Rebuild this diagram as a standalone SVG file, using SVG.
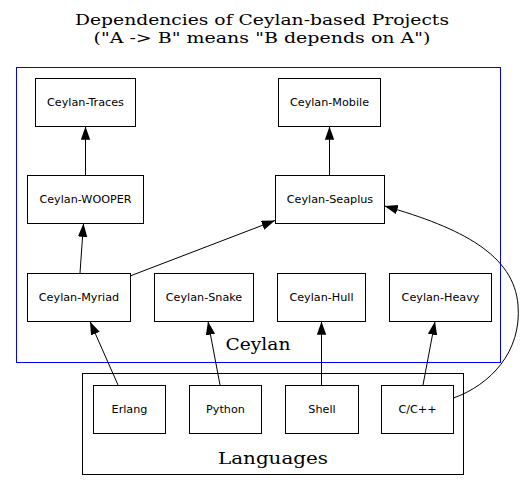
<svg xmlns="http://www.w3.org/2000/svg" width="524" height="491" viewBox="0 0 524 491">
<style>
.bg{fill:#fff}
.node rect{fill:none;stroke:#000;stroke-width:1}
.node text{font-family:"DejaVu Sans",sans-serif;font-size:11.2px;text-anchor:middle;fill:#000}
.title{font-family:"DejaVu Serif",serif;font-size:15px;text-anchor:middle;fill:#000}
.clabel{font-family:"DejaVu Serif",serif;font-size:17px;text-anchor:middle;fill:#000}
.edges path{fill:none;stroke:#000;stroke-width:1;marker-end:url(#ah)}
</style>
<defs>
<marker id="ah" markerWidth="14" markerHeight="10" refX="13.3" refY="4.7" orient="auto" markerUnits="userSpaceOnUse">
<path d="M0,0 L13.3,4.7 L0,9.4 z" fill="#000"/>
</marker>
</defs>
<rect class="bg" x="0" y="0" width="524" height="491"/>
<g id="title">
<text class="title" x="262" y="25" textLength="374" lengthAdjust="spacingAndGlyphs">Dependencies of Ceylan-based Projects</text>
<text class="title" x="262" y="43" textLength="337" lengthAdjust="spacingAndGlyphs">("A -&gt; B" means "B depends on A")</text>
</g>
<g id="cluster_ceylan">
<rect x="16.5" y="67.5" width="484" height="295" fill="none" stroke="#0000ff" stroke-width="1"/>
<text class="clabel" x="258" y="350" textLength="65" lengthAdjust="spacingAndGlyphs">Ceylan</text>
</g>
<g id="cluster_languages">
<rect x="82.5" y="373.5" width="381" height="101" fill="none" stroke="#000" stroke-width="1"/>
<text class="clabel" x="273" y="464" textLength="110" lengthAdjust="spacingAndGlyphs">Languages</text>
</g>
<g id="node_traces" class="node"><rect x="35.5" y="78.5" width="100" height="48"/><text x="85.5" y="106">Ceylan-Traces</text></g>
<g id="node_mobile" class="node"><rect x="278.5" y="78.5" width="102" height="48"/><text x="329.5" y="106">Ceylan-Mobile</text></g>
<g id="node_wooper" class="node"><rect x="27.5" y="175.5" width="116" height="48"/><text x="85.5" y="203">Ceylan-WOOPER</text></g>
<g id="node_seaplus" class="node"><rect x="275.5" y="175.5" width="109" height="48"/><text x="330" y="203">Ceylan-Seaplus</text></g>
<g id="node_myriad" class="node"><rect x="27.5" y="273.5" width="103" height="48"/><text x="79" y="301">Ceylan-Myriad</text></g>
<g id="node_snake" class="node"><rect x="154.5" y="273.5" width="99" height="48"/><text x="204" y="301">Ceylan-Snake</text></g>
<g id="node_hull" class="node"><rect x="277.5" y="273.5" width="88" height="48"/><text x="321.5" y="301">Ceylan-Hull</text></g>
<g id="node_heavy" class="node"><rect x="389.5" y="273.5" width="102" height="48"/><text x="440.5" y="301">Ceylan-Heavy</text></g>
<g id="node_erlang" class="node"><rect x="93.5" y="385.5" width="72" height="48"/><text x="129.5" y="413">Erlang</text></g>
<g id="node_python" class="node"><rect x="189.5" y="385.5" width="72" height="48"/><text x="225.5" y="413">Python</text></g>
<g id="node_shell" class="node"><rect x="285.5" y="385.5" width="73" height="48"/><text x="322" y="413">Shell</text></g>
<g id="node_cpp" class="node"><rect x="381.5" y="385.5" width="72" height="48"/><text x="417.5" y="413">C/C++</text></g>
<g id="edges" class="edges">
<path d="M85.5,175 L85.5,126.5"/>
<path d="M329.5,175 L329.5,126.5"/>
<path d="M80,273 L83.5,223.5"/>
<path d="M130,276 L275,220.5"/>
<path d="M118,385 L90,321.5"/>
<path d="M220,385 L208,321.5"/>
<path d="M321.5,385 L321.5,321.5"/>
<path d="M423,385 L435,321.5"/>
<path d="M453.5,398 C490,385 522,352 518,305 C514,255 462,228 384.5,206"/>
</g>
</svg>
